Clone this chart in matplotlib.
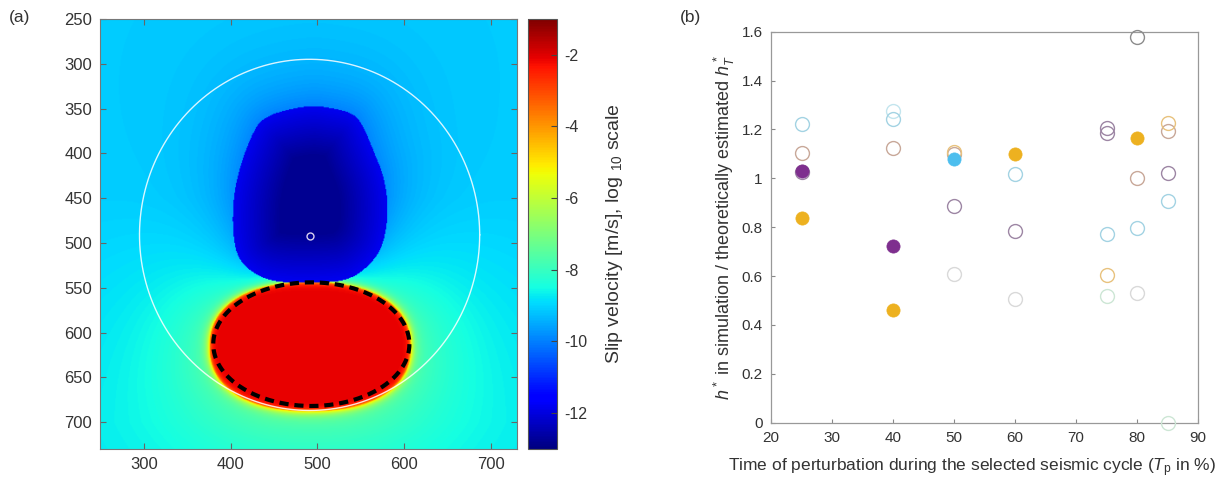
import numpy as np
import matplotlib
matplotlib.use('Agg')
import matplotlib.pyplot as plt
from matplotlib.path import Path

plt.rcParams['font.family'] = ['Liberation Sans', 'DejaVu Sans']
plt.rcParams['mathtext.fontset'] = 'custom'
plt.rcParams['mathtext.rm'] = 'Liberation Sans'
plt.rcParams['mathtext.it'] = 'Liberation Sans:italic'
plt.rcParams['axes.unicode_minus'] = False

# ---- panel (a): slip velocity snapshot (log10 m/s) ----
grid_min, grid_max = 250, 730
v_background = -9.1
v_blob_edge = -11.8
v_blob_core = -12.8
v_rupture = -2.1
clim = (-13, -1)

# outline of the locked (dark blue) patch
blob_x = [491, 503, 541, 553, 564, 578, 582, 576, 560, 538, 510, 461, 434, 411, 403, 403, 411, 426, 438, 465]
blob_y = [348, 348, 355, 370, 396, 429, 467, 504, 526, 541, 545, 545, 539, 522, 496, 452, 415, 377, 361, 352]

# rupture patch (red) and its dashed outline
rupture_center = (492, 616)
rupture_axes = (116, 72)
dashed_center = (493, 613)
dashed_axes = (113, 69)
nucleation_circle = (491, 491, 196)
hypocenter = (492, 492)

# ---- panel (b): h* ratio vs perturbation time ----
fill_orange_x = [25, 40, 60, 80]
fill_orange_y = [0.836, 0.461, 1.099, 1.166]
fill_purple_x = [25, 40]
fill_purple_y = [1.031, 0.724]
fill_blue_x = [50]
fill_blue_y = [1.078]

open_blue_x = [25, 40, 60, 75, 80, 85]
open_blue_y = [1.221, 1.241, 1.018, 0.771, 0.795, 0.908]
open_pale_x = [40]
open_pale_y = [1.275]
open_tan_x = [25, 40, 80, 85, 50]
open_tan_y = [1.105, 1.125, 1.000, 1.195, 1.100]
open_orange_x = [50, 85, 75]
open_orange_y = [1.109, 1.227, 0.603]
open_purple_x = [50, 60, 85, 75, 75, 25]
open_purple_y = [0.887, 0.786, 1.023, 1.205, 1.184, 1.024]
open_gray_x = [80]
open_gray_y = [1.579]
open_light_x = [50, 60, 80]
open_light_y = [0.607, 0.507, 0.529]
open_green_x = [75, 85]
open_green_y = [0.520, 0.0]


def smooth(xs, ys, n=3):
    p = np.column_stack([xs, ys]).astype(float)
    for _ in range(n):
        q = np.roll(p, -1, axis=0)
        p = np.vstack([0.75 * p + 0.25 * q, 0.25 * p + 0.75 * q]).reshape(2, -1, 2).transpose(1, 0, 2).reshape(-1, 2)
    return p


def superellipse(center, axes, n=2.3, m=200):
    th = np.linspace(0, 2 * np.pi, m, endpoint=False)
    c, s = np.cos(th), np.sin(th)
    x = center[0] + axes[0] * np.sign(c) * np.abs(c) ** (2 / n)
    y = center[1] + axes[1] * np.sign(s) * np.abs(s) ** (2 / n)
    return np.column_stack([x, y])


def poly_dist(X, Y, verts):
    d = np.full(X.shape, np.inf)
    for (x0, y0), (x1, y1) in zip(verts, np.roll(verts, -1, axis=0)):
        dx, dy = x1 - x0, y1 - y0
        t = np.clip(((X - x0) * dx + (Y - y0) * dy) / (dx * dx + dy * dy), 0, 1)
        d = np.minimum(d, np.hypot(X - x0 - t * dx, Y - y0 - t * dy))
    inside = Path(verts).contains_points(np.column_stack([X.ravel(), Y.ravel()])).reshape(X.shape)
    return d, inside


xs = np.arange(grid_min, grid_max + 1)
X, Y = np.meshgrid(xs, xs)
blob = smooth(blob_x, blob_y)
red = superellipse(rupture_center, rupture_axes)
db, in_b = poly_dist(X, Y, blob)
dr, in_r = poly_dist(X, Y, red)

field = (v_background - 0.9 * np.exp(-db / 45) + 1.4 * np.exp(-dr / 60)
         + 2.6 * np.exp(-dr / 4) + 0.3 * np.clip((Y - 450) / 250, 0, 1))
field = np.where(in_b, v_blob_edge + (v_blob_core - v_blob_edge) * np.clip(db / 55, 0, 1), field)
field = np.where(in_r, v_rupture - 2.5 * np.exp(-dr / 2.0), field)

fig = plt.figure(figsize=(12.28, 4.78), dpi=100)
ax = fig.add_axes([0.0818, 0.0607, 0.3392, 0.8996])
im = ax.imshow(field, cmap='jet', vmin=clim[0], vmax=clim[1],
               extent=(grid_min - 0.5, grid_max + 0.5, grid_max + 0.5, grid_min - 0.5),
               interpolation='bilinear', aspect='auto')
ax.set_xlim(250, 730)
ax.set_ylim(730, 250)

th = np.linspace(0, 2 * np.pi, 400)
cx, cy, rr = nucleation_circle
ax.plot(cx + rr * np.cos(th), cy + rr * np.sin(th), color='white', lw=1.0, alpha=0.85)
ax.plot(dashed_center[0] + dashed_axes[0] * np.cos(th), dashed_center[1] + dashed_axes[1] * np.sin(th),
        color='black', lw=3.0, linestyle=(0, (2.2, 1.4)))
ax.plot(*hypocenter, 'o', mfc='none', mec='#d8d0f0', ms=5, mew=1)

ax.set_xticks([300, 400, 500, 600, 700])
ax.set_yticks(range(250, 701, 50))
ax.tick_params(direction='in', top=True, right=True, length=4, color='#666666',
               labelsize=12, labelcolor='#333333', pad=6)
for s in ax.spines.values():
    s.set_color('#777777')
    s.set_linewidth(0.8)
fig.text(0.007, 0.953, '(a)', fontsize=12.5, color='#333333')

cax = fig.add_axes([0.430, 0.0607, 0.0236, 0.8996])
cb = fig.colorbar(im, cax=cax)
cb.set_ticks([-12, -10, -8, -6, -4, -2])
cax.tick_params(direction='in', length=4, color='#444444', labelsize=11.5, labelcolor='#333333', pad=5)
cb.outline.set_edgecolor('#555555')
cb.set_label(r'Slip velocity [m/s], log $_{10}$ scale', fontsize=14, color='#333333', labelpad=12)

# ---- panel (b) ----
bx = fig.add_axes([0.6279, 0.1157, 0.3477, 0.818])
ms_open, ms_fill = 10, 9.5
opens = [
    (open_light_x, open_light_y, '#d9d9d9'),
    (open_green_x, open_green_y, '#cde6d5'),
    (open_pale_x, open_pale_y, '#c3e5ee'),
    (open_blue_x, open_blue_y, '#a3d3e3'),
    (open_tan_x, open_tan_y, '#c8a899'),
    (open_orange_x, open_orange_y, '#e8c27e'),
    (open_purple_x, open_purple_y, '#9d86a4'),
    (open_gray_x, open_gray_y, '#8c8c8c'),
]
for x, y, c in opens:
    bx.plot(x, y, 'o', mfc='none', mec=c, ms=ms_open, mew=1.0, clip_on=False, zorder=3)
fills = [
    (fill_orange_x, fill_orange_y, '#EDB120'),
    (fill_purple_x, fill_purple_y, '#7E2F8E'),
    (fill_blue_x, fill_blue_y, '#4DBEEE'),
]
for x, y, c in fills:
    bx.plot(x, y, 'o', color=c, ms=ms_fill, mew=0.5, clip_on=False, zorder=4)

bx.set_xlim(20, 90)
bx.set_ylim(0, 1.6)
bx.set_xticks(range(20, 91, 10))
yt = [0, 0.2, 0.4, 0.6, 0.8, 1.0, 1.2, 1.4, 1.6]
bx.set_yticks(yt)
bx.set_yticklabels(['0', '0.2', '0.4', '0.6', '0.8', '1', '1.2', '1.4', '1.6'])
bx.tick_params(direction='in', length=3, color='#888888', labelsize=11, labelcolor='#333333', pad=6)
for s in bx.spines.values():
    s.set_color('#999999')
    s.set_linewidth(0.9)
bx.set_xlabel(r'Time of perturbation during the selected seismic cycle ($T_\mathrm{p}$ in %)',
              fontsize=12.5, color='#333333')
bx.xaxis.set_label_coords(0.47, -0.085)
bx.set_ylabel(r'$h^*$ in simulation / theoretically estimated $h_T^*$', fontsize=13,
              color='#333333', labelpad=3)
fig.text(0.554, 0.953, '(b)', fontsize=12.5, color='#333333')

fig.savefig('out.png', dpi=100)
